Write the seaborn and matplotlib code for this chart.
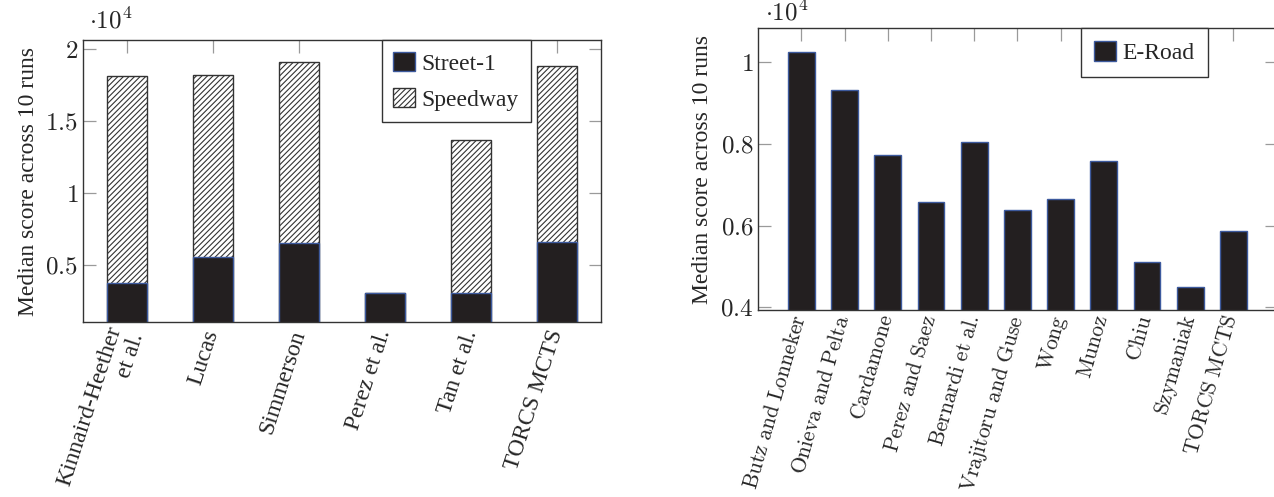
import matplotlib
matplotlib.use("Agg")
import pandas as pd
import matplotlib.pyplot as plt
import seaborn as sns
from matplotlib.patches import Patch
from matplotlib.ticker import FuncFormatter

# left chart: stacked Street-1 / Speedway scores
track_drivers = ["Kinnaird-Heether\net al.", "Lucas", "Simmerson",
                 "Perez et al.", "Tan et al.", "TORCS MCTS"]
street_scores = [3750, 5530, 6500, 3030, 3030, 6600]
speedway_scores = [14375, 12660, 12570, 0, 10650, 12200]

# right chart: E-Road scores
eroad_drivers = ["Butz and Lonneker", "Onieva and Pelta", "Cardamone",
                 "Perez and Saez", "Bernardi et al.", "Vrajitoru and Guse",
                 "Wong", "Munoz", "Chiu", "Szymaniak", "TORCS MCTS"]
eroad_scores = [10260, 9315, 7720, 6590, 8040, 6385, 6650, 7580, 5120, 4500, 5870]

BAR = "#231f20"
EDGE = "#3d5a9e"
FRAME = "#333333"
TICK = "#9a9a9a"


def cm(s):
    """Computer Modern look via mathtext."""
    return "$\\mathrm{" + s.replace(" ", "\\ ") + "}$"


def style_axes(ax, ylim):
    ax.set_ylim(*ylim)
    for sp in ax.spines.values():
        sp.set_color(FRAME)
        sp.set_linewidth(1.0)
        sp.set_visible(True)
    ax.tick_params(direction="in", length=9, width=0.9, color=TICK,
                   top=True, right=True, bottom=False, left=True,
                   labelsize=18)
    ax.tick_params(axis="x", bottom=False, top=True)
    ax.yaxis.set_major_formatter(FuncFormatter(lambda v, p: f"${v / 1e4:g}$"))
    ax.set_xlabel("")
    ax.set_ylabel("Median score across 10 runs", fontsize=17, labelpad=5)


def main():
    sns.set_theme(style="white")
    plt.rcParams["font.family"] = ["Liberation Serif", "DejaVu Serif"]
    plt.rcParams["mathtext.fontset"] = "cm"
    plt.rcParams["hatch.linewidth"] = 0.8
    plt.rcParams["hatch.color"] = "#222222"

    fig = plt.figure(figsize=(12.74, 4.97), dpi=100)

    # ---- left chart
    ax1 = fig.add_axes([83 / 1274, 1 - 322 / 497, 518 / 1274, 282 / 497])
    df = pd.DataFrame({"driver": track_drivers,
                       "street": street_scores,
                       "speedway": speedway_scores})
    df["total"] = df["street"] + df["speedway"]
    sns.barplot(data=df, x="driver", y="total", color="white", saturation=1,
                edgecolor=FRAME, linewidth=1.0, hatch="//////", width=0.465,
                ax=ax1)
    sns.barplot(data=df, x="driver", y="street", color=BAR, saturation=1,
                edgecolor=EDGE, linewidth=1.0, width=0.465, ax=ax1)
    ax1.set_xlim(-0.508, len(track_drivers) - 0.492)
    style_axes(ax1, (1042, 20625))
    ax1.set_yticks([5000, 10000, 15000, 20000])
    ax1.set_xticks(range(len(track_drivers)))
    ax1.set_xticklabels(track_drivers, rotation=72, ha="right", va="center",
                        rotation_mode="anchor", fontsize=17,
                        multialignment="right")
    ax1.tick_params(axis="x", pad=6)
    ax1.text(0.012, 1.022, r"$\cdot 10^4$", transform=ax1.transAxes,
             fontsize=18, va="bottom", ha="left")
    handles = [Patch(facecolor=BAR, edgecolor=EDGE, label="Street-1"),
               Patch(facecolor="white", edgecolor=FRAME, hatch="//////",
                     label="Speedway")]
    leg = ax1.legend(handles=handles, loc="upper left",
                     bbox_to_anchor=(0.5766, 1.0), borderaxespad=0,
                     fancybox=False, framealpha=1, edgecolor=FRAME,
                     fontsize=17, handlelength=0.9, handleheight=0.9,
                     handletextpad=0.3, labelspacing=0.55, borderpad=0.5)
    leg.get_frame().set_linewidth(1.0)

    # ---- right chart
    ax2 = fig.add_axes([758.3 / 1274, 1 - 310 / 497, 518.2 / 1274, 281.7 / 497])
    er = pd.DataFrame({"driver": eroad_drivers, "score": eroad_scores})
    sns.barplot(data=er, x="driver", y="score", color=BAR, saturation=1,
                edgecolor=EDGE, linewidth=1.0, width=0.62, ax=ax2)
    ax2.set_xlim(-1.0, len(eroad_drivers))
    style_axes(ax2, (3934, 10832))
    ax2.set_yticks([4000, 6000, 8000, 10000])
    ax2.set_xticks(range(len(eroad_drivers)))
    ax2.set_xticklabels([cm(d) for d in eroad_drivers], rotation=74,
                        ha="right", va="center", rotation_mode="anchor",
                        fontsize=15.5)
    ax2.tick_params(axis="x", pad=4)
    ax2.text(0.012, 1.012, r"$\cdot 10^4$", transform=ax2.transAxes,
             fontsize=18, va="bottom", ha="left")
    leg2 = ax2.legend(handles=[Patch(facecolor=BAR, edgecolor=EDGE,
                                     label="E-Road")],
                      loc="upper left", bbox_to_anchor=(0.6233, 1.0),
                      borderaxespad=0, fancybox=False, framealpha=1,
                      edgecolor=FRAME, fontsize=17, handlelength=0.9,
                      handleheight=0.9, handletextpad=0.3, borderpad=0.55)
    leg2.get_frame().set_linewidth(1.0)

    fig.savefig("out.png", dpi=100)


if __name__ == "__main__":
    main()
